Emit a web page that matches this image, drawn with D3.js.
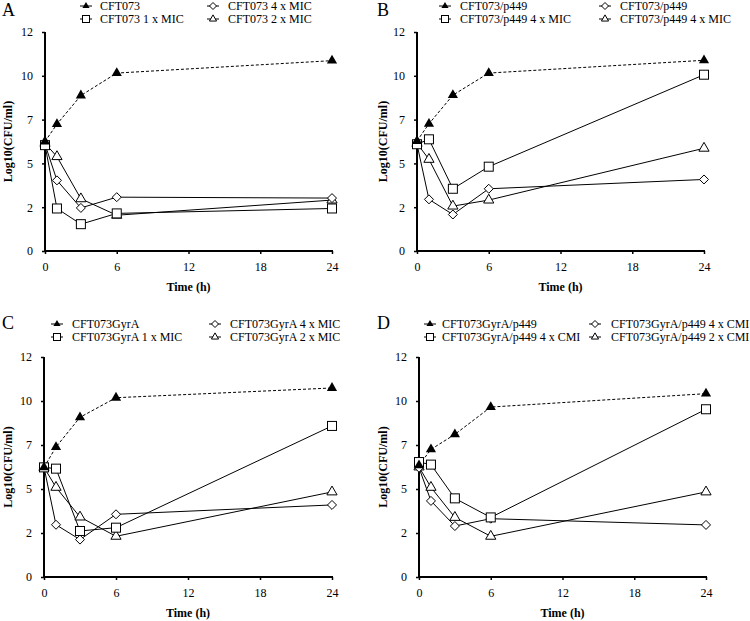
<!DOCTYPE html>
<html><head><meta charset="utf-8">
<script src="https://cdn.jsdelivr.net/npm/d3@7"></script>
<style>body{margin:0;background:#fff}svg{display:block}text{font-family:"Liberation Serif","Times New Roman",Times,serif;fill:#000}</style>
</head><body>
<svg id="c" width="750" height="621"></svg>
<script>
const times = [0, 1, 3, 6, 24];
const xTicks = [0, 6, 12, 18, 24];
const yTickValues = [0, 2.4, 4.8, 7.2, 9.6, 12];
const yTickLabels = ["0", "2", "5", "7", "10", "12"];

// Panel A
const aNames = ["CFT073", "CFT073 1 x MIC", "CFT073 4 x MIC", "CFT073 2 x MIC"];
const aControl = [6.0, 6.95, 8.52, 9.75, 10.43];
const aSquare  = [5.8, 2.33, 1.47, 2.06, 2.33];
const aDiamond = [5.85, 3.87, 2.36, 2.95, 2.9];
const aTri     = [5.9, 5.17, 2.86, 1.96, 2.79];
// Panel B
const bNames = ["CFT073/p449", "CFT073/p449 4 x MIC", "CFT073/p449", "CFT073/p449 4 x MIC"];
const bControl = [6.03, 6.97, 8.54, 9.75, 10.45];
const bSquare  = [5.85, 6.12, 3.41, 4.62, 9.66];
const bDiamond = [5.85, 2.83, 2.0, 3.41, 3.92];
const bTri     = [5.9, 5.02, 2.46, 2.79, 5.63];
// Panel C
const cNames = ["CFT073GyrA", "CFT073GyrA 1 x MIC", "CFT073GyrA 4 x MIC", "CFT073GyrA 2 x MIC"];
const cControl = [5.98, 7.09, 8.71, 9.78, 10.31];
const cSquare  = [5.98, 5.91, 2.51, 2.69, 8.24];
const cDiamond = [5.98, 2.85, 2.04, 3.42, 3.93];
const cTri     = [5.98, 4.89, 3.27, 2.22, 4.64];
// Panel D
const dNames = ["CFT073GyrA/p449", "CFT073GyrA/p449 4 x CMI", "CFT073GyrA/p449 4 x CMI", "CFT073GyrA/p449 2 x CMI"];
const dControl = [6.09, 6.96, 7.78, 9.27, 10.0];
const dSquare  = [6.27, 6.13, 4.29, 3.25, 9.15];
const dDiamond = [5.96, 4.15, 2.78, 3.18, 2.84];
const dTri     = [6.0, 4.89, 3.25, 2.22, 4.64];

const panels = [
  {letter:"A", names:aNames, series:[aControl,aSquare,aDiamond,aTri], x0:45, x1:332, yB:251, yT:32, ox:0, oy:0,
   leg:{c1m:86,c1t:100,c2m:213,c2t:228,r1:6,r2:19}},
  {letter:"B", names:bNames, series:[bControl,bSquare,bDiamond,bTri], x0:417, x1:704, yB:251, yT:32, ox:375, oy:0,
   leg:{c1m:445,c1t:460,c2m:605,c2t:620,r1:6,r2:19}},
  {letter:"C", names:cNames, series:[cControl,cSquare,cDiamond,cTri], x0:44, x1:332, yB:577, yT:357, ox:0, oy:313,
   leg:{c1m:57,c1t:72,c2m:215,c2t:230,r1:324,r2:337}},
  {letter:"D", names:dNames, series:[dControl,dSquare,dDiamond,dTri], x0:419, x1:706, yB:577, yT:357, ox:375, oy:313,
   leg:{c1m:430,c1t:442,c2m:595,c2t:611,r1:324,r2:337}}
];

const svg = d3.select("#c");
const kinds = ["ctrl","square","diamond","tri"];

function marker(g, kind, x, y, s) {
  if (kind === "ctrl") {
    g.append("path").attr("d", d3.symbol(d3.symbolTriangle, s*s*0.45)()).attr("transform",`translate(${x},${y})`).attr("fill","#000");
  } else if (kind === "square") {
    g.append("rect").attr("x", x - s/2).attr("y", y - s/2).attr("width", s).attr("height", s).attr("fill","#fff").attr("stroke","#000").attr("stroke-width",1);
  } else if (kind === "diamond") {
    const h = s*0.5;
    g.append("path").attr("d",`M${x},${y-h}L${x+h},${y}L${x},${y+h}L${x-h},${y}Z`).attr("fill","#fff").attr("stroke","#000");
  } else {
    g.append("path").attr("d", d3.symbol(d3.symbolTriangle, s*s*0.45)()).attr("transform",`translate(${x},${y})`).attr("fill","#fff").attr("stroke","#000");
  }
}

panels.forEach(p => {
  const g = svg.append("g");
  const x = d3.scaleLinear().domain([0,24]).range([p.x0, p.x1]);
  const y = d3.scaleLinear().domain([0,12]).range([p.yB, p.yT]);

  g.append("text").attr("x", p.ox + 2).attr("y", p.oy + 16).attr("font-size", 18).text(p.letter);

  const yAxis = d3.axisLeft(y).tickValues(yTickValues).tickFormat((d,i)=>yTickLabels[i]).tickSize(3).tickPadding(9);
  const ya = g.append("g").attr("transform",`translate(${p.x0},0)`).call(yAxis);
  const xAxis = d3.axisBottom(x).tickValues(xTicks).tickSize(3).tickPadding(8);
  const xa = g.append("g").attr("transform",`translate(0,${p.yB})`).call(xAxis);
  [ya, xa].forEach(a => {
    a.attr("font-family", null);
    a.select(".domain").remove();
    a.selectAll(".tick line").attr("stroke","#000").attr("stroke-width",1.5);
    a.selectAll("text").attr("font-size",12);
  });
  g.append("line").attr("x1",p.x0).attr("x2",p.x0).attr("y1",p.yT).attr("y2",p.yB+1).attr("stroke","#000").attr("stroke-width",2);
  g.append("line").attr("x1",p.x0-1).attr("x2",p.x1+1).attr("y1",p.yB).attr("y2",p.yB).attr("stroke","#000").attr("stroke-width",2);

  g.append("text").attr("x",(p.x0+p.x1)/2).attr("y",p.yB+40).attr("text-anchor","middle").attr("font-size",12).attr("font-weight","bold").text("Time (h)");
  g.append("text").attr("transform",`translate(${p.ox+12},${(p.yT+p.yB)/2}) rotate(-90)`).attr("text-anchor","middle").attr("font-size",12).attr("font-weight","bold").text("Log10(CFU/ml)");

  const line = d3.line().x((d,i)=>x(times[i])).y(d=>y(d));
  [1,2,3].forEach(k => {
    g.append("path").attr("d", line(p.series[k])).attr("fill","none").attr("stroke","#000").attr("stroke-width",1);
  });
  g.append("path").attr("d", line(p.series[0])).attr("fill","none").attr("stroke","#000").attr("stroke-width",1).attr("stroke-dasharray","3,2");

  const sizes = {ctrl:10, square:9, diamond:9, tri:10};
  [3,2,1,0].forEach(k => {
    p.series[k].forEach((v,i) => marker(g, kinds[k], x(times[i]), y(v), sizes[kinds[k]]));
  });

  const L = p.leg;
  const pos = [[L.c1m,L.c1t,L.r1],[L.c1m,L.c1t,L.r2],[L.c2m,L.c2t,L.r1],[L.c2m,L.c2t,L.r2]];
  pos.forEach((q,k) => {
    g.append("line").attr("x1",q[0]-6).attr("x2",q[0]+6).attr("y1",q[2]).attr("y2",q[2]).attr("stroke","#000").attr("stroke-width",1);
    marker(g, kinds[k], q[0], q[2], 7);
    g.append("text").attr("x",q[1]).attr("y",q[2]+4).attr("font-size",12).text(p.names[k]);
  });
});
</script>
</body></html>
